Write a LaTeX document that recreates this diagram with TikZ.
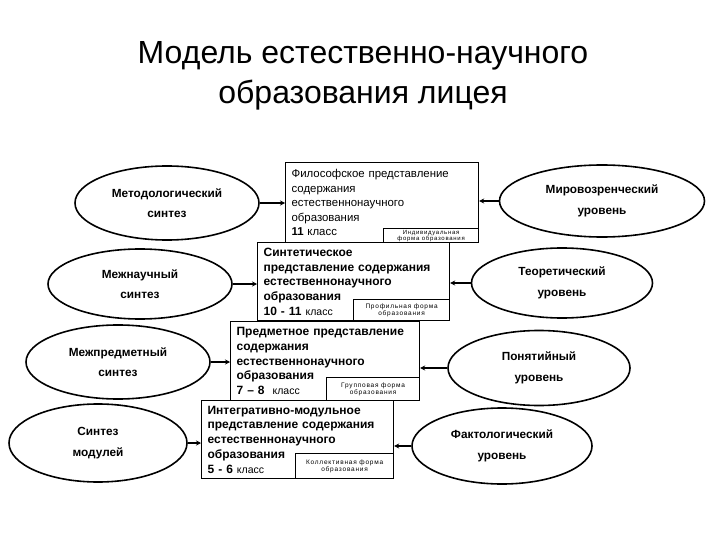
\documentclass[tikz,border=0pt]{standalone}
\usepackage{fontspec}
\setmainfont{Liberation Sans}
\usetikzlibrary{shapes.geometric,arrows.meta}

\begin{document}
\begin{tikzpicture}[x=1pt,y=-1pt]

\tikzstyle{vertex}=[draw, ellipse, line width=1.6pt, inner sep=0pt, align=center, font=\fontsize{11.8}{20.5}\selectfont\bfseries]
\tikzstyle{plan}=[draw, line width=1.2pt, fill=white, anchor=north west, inner xsep=6pt, inner ysep=0pt, align=left, font=\fontsize{12}{14.7}\selectfont\bfseries]
\tikzstyle{form}=[draw, line width=1.2pt, fill=white, anchor=south east, inner sep=0pt, align=center]
\tikzstyle{edge}=[-{Stealth[length=5pt,width=5pt]}, line width=1.5pt]

\newcommand{\klass}{{\mdseries\fontsize{10.5}{14.7}\selectfont класс}}
\newcommand{\formfont}[1]{\fontsize{#1}{#1}\selectfont\addfontfeature{LetterSpace=12}}

\useasboundingbox (0,0) rectangle (720,540);

\node[align=center, font=\fontsize{32}{40}\selectfont] (title) at (363,76) {Модель естественно-научного\\образования лицея};

% stacked content boxes
\node[plan, text width=181pt, minimum height=80pt, font=\fontsize{11.4}{14.5}\selectfont] (phil_box) at (285,162)
  {Философское представление\\содержания\\естественнонаучного\\образования\\\textbf{11} класс};
\node[form, minimum width=95pt, minimum height=14pt, font=\formfont{6}\linespread{1.1}] (ind_form) at (phil_box.south east) {Индивидуальная\\форма образования};

\node[plan, text width=180pt, minimum height=78pt] (synth_box) at (257,242)
  {Синтетическое\\представление содержания\\естественнонаучного\\образования\\10 - 11 \klass};
\node[form, minimum width=96pt, minimum height=21pt, font=\formfont{6.5}\linespread{1.6}] (prof_form) at (synth_box.south east) {Профильная форма\\образования};

\node[plan, text width=177pt, minimum height=79pt] (subj_box) at (230,321)
  {Предметное представление\\содержания\\естественнонаучного\\образования\\7 -- 8 \ \klass};
\node[form, minimum width=93pt, minimum height=23pt, font=\formfont{6.5}\linespread{1.5}] (group_form) at (subj_box.south east) {Групповая форма\\образования};

\node[plan, text width=180pt, minimum height=78pt] (integ_box) at (201,400)
  {Интегративно-модульное\\представление содержания\\естественнонаучного\\образования\\5 - 6 \klass};
\node[form, minimum width=98pt, minimum height=25pt, font=\formfont{6.5}\linespread{1.3}] (coll_form) at (integ_box.south east) {Коллективная форма\\образования};

% syntheses on the left
\node[vertex, minimum width=184pt, minimum height=74pt] (method_synth) at (167,203) {Методологический\\синтез};
\node[vertex, minimum width=184pt, minimum height=70pt] (intersci_synth) at (140,284) {Межнаучный\\синтез};
\node[vertex, minimum width=184pt, minimum height=74pt] (intersubj_synth) at (118,362) {Межпредметный\\синтез};
\node[vertex, minimum width=178pt, minimum height=78pt] (module_synth) at (98,443) {Синтез\\модулей};

% levels on the right
\node[vertex, minimum width=205pt, minimum height=72pt] (world_level) at (602,201) {Мировозренческий\\уровень};
\node[vertex, minimum width=181pt, minimum height=70pt] (theory_level) at (562,283) {Теоретический\\уровень};
\node[vertex, minimum width=182pt, minimum height=75pt] (concept_level) at (539,368) {Понятийный\\уровень};
\node[vertex, minimum width=180pt, minimum height=76pt] (fact_level) at (502,446) {Фактологический\\уровень};

\draw[edge] (method_synth.east) -- (method_synth.east -| phil_box.west);
\draw[edge] (intersci_synth.east) -- (intersci_synth.east -| synth_box.west);
\draw[edge] (intersubj_synth.east) -- (intersubj_synth.east -| subj_box.west);
\draw[edge] (module_synth.east) -- (module_synth.east -| integ_box.west);

\draw[edge] (world_level.west) -- (world_level.west -| phil_box.east);
\draw[edge] (theory_level.west) -- (theory_level.west -| synth_box.east);
\draw[edge] (concept_level.west) -- (concept_level.west -| subj_box.east);
\draw[edge] (fact_level.west) -- (fact_level.west -| integ_box.east);

\end{tikzpicture}
\end{document}
